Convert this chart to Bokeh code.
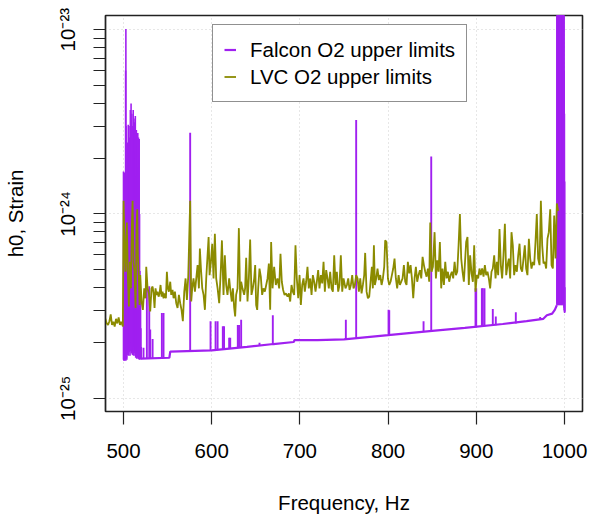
import numpy as np
from bokeh.plotting import figure
from bokeh.models import Range1d, FixedTicker, Legend, LegendItem
from bokeh.embed import file_html
from bokeh.resources import INLINE

UNIT = 1e-25  # all strain values below are in units of 1e-25

# ---- LVC O2 upper limits ----
lvc_freq = [
    476, 478, 479.5, 481, 482.5, 484, 485.5, 487, 488.5, 490,
    491.5, 493, 494.5, 496, 497.5, 499.3, 500.1, 501.2, 502.3, 503.8,
    505.0, 506.1, 507.2, 508.4, 509.5, 510.3, 511.4, 512.5, 513.7, 514.8,
    515.6, 516.3, 517.4, 518.2, 519.0, 520.5, 522.0, 523.5, 525.0, 525.8,
    527.3, 528.8, 530.3, 531.8, 533.0, 534.1, 535.2, 536.3, 537.5, 538.6,
    539.8, 540.9, 542.0, 543.2, 544.3, 545.4, 546.6, 548.1, 549.2, 550.3,
    551.5, 553.0, 554.1, 555.6, 556.8, 558.3, 559.8, 561.3, 562.8, 564.3,
    565.8, 567.3, 568.9, 570.4, 571.9, 573.4, 575.6, 576.8, 577.9, 579.4,
    581.0, 582.5, 584.0, 585.5, 586.6, 587.8, 589.3, 590.8, 592.3, 593.8,
    595.3, 596.5, 597.6, 599.1, 600.6, 602.1, 603.6, 605.1, 606.7, 608.5,
    610.4, 611.6, 613.4, 614.9, 616.4, 617.9, 619.8, 620.9, 622.8, 624.0,
    625.5, 626.6, 627.7, 629.3, 630.8, 632.3, 633.4, 634.9, 636.8, 637.9,
    639.1, 640.6, 642.1, 643.6, 645.1, 646.6, 648.2, 649.3, 650.4, 651.6,
    652.7, 654.2, 655.7, 657.2, 658.7, 660.3, 661.8, 663.3, 664.8, 666.3,
    667.4, 669.0, 670.8, 672.7, 674.6, 676.5, 678.0, 679.5, 681.0, 682.6,
    684.1, 686.0, 687.5, 689.0, 690.5, 692.0, 693.5, 695.0, 696.5, 698.1,
    699.6, 701.1, 702.6, 704.1, 705.6, 707.1, 708.6, 710.1, 711.7, 713.2,
    714.7, 716.2, 717.7, 719.2, 720.7, 722.2, 723.8, 725.3, 726.8, 728.3,
    729.8, 731.3, 732.8, 734.3, 735.9, 737.4, 738.9, 740.4, 741.9, 743.4,
    744.9, 746.4, 748.0, 749.5, 751.7, 753.3, 754.8, 756.3, 757.8, 759.3,
    760.8, 762.3, 763.8, 765.4, 766.9, 768.4, 769.9, 771.4, 772.9, 774.0,
    775.6, 777.1, 778.6, 780.1, 781.6, 782.7, 783.9, 785.0, 786.5, 788.0,
    789.5, 791.1, 792.6, 794.1, 795.6, 796.7, 798.2, 799.8, 801.3, 802.8,
    804.3, 805.8, 807.3, 808.8, 810.3, 811.9, 813.4, 814.9, 816.4, 817.9,
    819.4, 820.9, 822.4, 824.0, 825.5, 827.0, 828.5, 830.0, 831.5, 833.0,
    834.5, 836.1, 837.6, 839.1, 840.6, 842.1, 843.6, 845.1, 846.6, 847.8,
    849.3, 850.8, 852.7, 854.2, 855.7, 857.2, 858.7, 860.2, 861.7, 863.3,
    864.8, 866.3, 867.8, 869.3, 870.8, 872.3, 873.8, 875.4, 876.9, 878.4,
    879.9, 881.4, 882.9, 884.4, 885.9, 887.0, 888.5, 890.0, 891.5, 893.0,
    894.6, 896.1, 897.6, 899.1, 900.6, 902.1, 903.6, 905.1, 906.6, 908.2,
    909.7, 911.2, 912.7, 914.2, 915.7, 917.2, 918.7, 920.3, 921.8, 923.3,
    924.8, 926.3, 927.8, 929.3, 930.8, 932.4, 933.9, 935.4, 936.9, 938.4,
    939.9, 941.4, 942.9, 944.4, 946.0, 947.5, 949.0, 950.5, 952.0, 953.5,
    955.0, 956.5, 958.0, 959.6, 961.1, 962.6, 964.1, 965.6, 967.1, 968.6,
    970.1, 971.7, 973.2, 974.7, 976.2, 977.7, 979.2, 980.7, 982.2, 983.8,
    985.3, 986.8, 988.3, 989.8, 991.3, 992.8,
]
lvc_h0 = [
    2.7, 2.6, 2.7, 2.55, 2.5, 2.62, 2.85, 2.5, 2.6, 2.45,
    2.7, 2.55, 2.75, 2.5, 2.6, 2.45, 11.8, 6.76, 4.86, 9.0,
    4.47, 3.15, 5.5, 3.95, 8.65, 11.8, 5.5, 4.86, 3.09, 8.3,
    10.6, 5.97, 4.47, 3.21, 4.66, 3.35, 3.02, 3.95, 3.49, 5.17,
    3.95, 3.71, 2.96, 3.95, 4.04, 3.71, 3.09, 3.95, 3.64, 3.79,
    3.56, 3.71, 4.12, 3.56, 3.79, 3.49, 3.71, 3.49, 4.86, 3.95,
    3.79, 4.29, 3.64, 3.87, 3.49, 3.79, 3.28, 3.09, 3.64, 3.28,
    3.02, 2.62, 3.79, 4.47, 3.42, 4.57, 11.8, 3.35, 3.95, 4.47,
    3.79, 4.47, 5.28, 3.95, 6.49, 5.06, 3.95, 3.64, 3.02, 4.47,
    5.97, 7.5, 4.66, 5.5, 6.9, 4.47, 7.8, 4.47, 3.95, 3.28,
    5.06, 7.19, 3.64, 5.97, 4.12, 3.64, 4.47, 3.95, 3.35, 3.95,
    3.09, 2.78, 3.64, 3.95, 8.38, 3.35, 4.29, 3.95, 3.64, 3.95,
    5.78, 3.35, 4.47, 7.28, 3.64, 3.95, 4.47, 5.28, 3.21, 3.02,
    3.95, 5.06, 4.57, 3.64, 3.95, 3.79, 4.12, 4.47, 5.39, 3.02,
    7.04, 3.95, 5.17, 4.12, 4.47, 3.95, 6.09, 4.29, 3.87, 3.64,
    3.71, 3.56, 3.71, 3.35, 4.12, 3.79, 3.64, 6.76, 4.47, 3.49,
    4.66, 3.21, 4.12, 4.47, 3.79, 4.29, 5.17, 3.95, 4.47, 3.64,
    4.66, 4.29, 3.79, 4.29, 4.96, 3.95, 4.66, 4.2, 5.5, 3.79,
    4.96, 4.47, 3.95, 4.86, 3.95, 3.79, 5.97, 4.12, 4.86, 3.79,
    4.12, 5.97, 3.79, 4.47, 3.95, 4.12, 4.47, 3.87, 4.12, 4.66,
    3.95, 4.12, 4.66, 4.47, 3.79, 4.47, 3.71, 4.12, 4.66, 6.15,
    3.79, 3.49, 3.56, 4.29, 5.17, 3.95, 6.76, 4.12, 4.47, 5.06,
    4.38, 4.66, 4.12, 4.47, 5.17, 7.19, 7.04, 4.47, 4.12, 4.29,
    4.66, 5.06, 5.73, 4.47, 3.95, 4.66, 4.12, 4.29, 4.47, 5.28,
    4.29, 4.12, 5.5, 4.76, 5.28, 4.47, 3.49, 4.47, 5.17, 4.29,
    4.66, 4.96, 4.47, 5.85, 5.28, 4.86, 4.57, 5.06, 4.29, 9.0,
    4.86, 5.17, 7.97, 4.47, 5.61, 4.86, 7.04, 3.95, 5.06, 4.12,
    5.5, 4.47, 4.86, 4.29, 4.66, 4.86, 4.47, 5.5, 4.66, 4.86,
    6.76, 10.0, 5.73, 4.86, 4.29, 5.28, 7.04, 7.5, 4.12, 5.97,
    4.76, 4.29, 6.76, 3.79, 4.66, 4.47, 5.06, 4.66, 5.06, 4.57,
    5.28, 4.66, 4.86, 4.47, 3.95, 4.86, 5.06, 5.97, 4.47, 5.5,
    4.66, 8.3, 5.28, 4.47, 5.97, 8.84, 4.66, 5.28, 5.73, 4.47,
    7.97, 6.76, 4.66, 5.28, 4.86, 5.97, 6.9, 5.06, 4.86, 5.73,
    6.76, 5.06, 4.66, 7.34, 5.73, 5.06, 5.5, 5.28, 7.04, 10.0,
    5.73, 5.28, 11.8, 6.76, 5.39, 5.5, 5.06, 7.34, 7.97, 10.6,
    5.28, 5.06, 9.8, 5.73, 11.4, 10.4,
]

# ---- Falcon O2 upper limits ----
# smooth floor of the upper limits
falcon_floor_freq = [519.5, 552, 553, 600, 640, 670, 693, 694, 720, 750,
                     800, 850, 887, 930, 957, 976, 980, 986, 989, 991.3]
falcon_floor_h0 = [1.64, 1.66, 1.79, 1.82, 1.9, 1.97, 2.02, 2.07, 2.07, 2.09,
                   2.2, 2.32, 2.41, 2.53, 2.62, 2.7, 2.82, 2.88, 3.02, 3.2]
# isolated narrow lines: frequency, floor value, peak value
falcon_line_freq = [522.7, 526.5, 529.2, 530.3, 533.0, 543.5, 545.4, 575.6, 598.7, 604.4,
                    606.7, 612.6, 614.0, 619.8, 621.0, 629.6, 631.0, 633.4, 654.2, 669.3,
                    752.1, 763.8, 800.5, 801.3, 840.2, 848.9, 899.1, 899.9, 906.3, 907.4,
                    909.3, 918.7, 922.1, 944.8, 972.4]
falcon_line_base = [1.64, 1.64, 1.64, 1.64, 1.65, 1.65, 1.65, 1.8, 1.82, 1.83,
                    1.83, 1.84, 1.84, 1.86, 1.86, 1.88, 1.88, 1.88, 1.93, 1.97,
                    2.09, 2.11, 2.2, 2.2, 2.3, 2.32, 2.43, 2.43, 2.45, 2.45,
                    2.46, 2.48, 2.49, 2.55, 2.68]
falcon_line_peak = [1.88, 4.05, 4.05, 2.36, 2.1, 2.9, 2.9, 27.6, 2.62, 2.62,
                    2.62, 2.46, 2.46, 2.13, 2.13, 2.5, 2.5, 2.67, 2.0, 2.82,
                    2.67, 32.4, 3.02, 3.0, 2.62, 20.5, 3.95, 3.95, 3.95, 3.95,
                    3.95, 3.05, 2.78, 2.93, 2.76]
# densely oscillating band near 500-520 Hz
falcon_lowband_freq = [500.0, 500.4, 500.8, 501.2, 501.6, 502.0, 502.4, 502.7, 503.0, 503.4,
                       503.8, 504.2, 504.6, 505.0, 505.4, 505.8, 506.2, 506.6, 507.0, 507.4,
                       507.8, 508.2, 508.6, 509.0, 509.4, 509.8, 510.2, 510.6, 511.0, 511.4,
                       511.8, 512.2, 512.6, 513.0, 513.4, 513.8, 514.2, 514.6, 515.0, 515.4,
                       515.8, 516.2, 516.6, 517.0, 517.4, 517.8, 518.2, 518.6, 519.0, 519.3,
                       519.7, 520.1]
falcon_lowband_hi = [17, 12, 16.8, 9, 16.5, 14, 60, 101, 30, 16.8,
                     12, 16, 24.4, 20, 30.5, 22, 30, 26, 20.6, 12,
                     36.7, 25, 39.8, 30, 35, 18, 22, 30, 36.7, 26,
                     33, 24, 31.5, 20, 34, 22, 28.6, 28.6, 16, 23.3,
                     20, 27.5, 18, 26, 20, 25.5, 10, 4.9, 3.0, 3.8,
                     2.4, 1.9]
falcon_lowband_lo = [1.62, 1.6, 1.63, 1.6, 1.65, 1.62, 1.64, 1.6, 1.7, 1.66,
                     1.62, 1.75, 1.8, 1.72, 1.9, 1.7, 1.85, 1.78, 1.95, 1.7,
                     1.88, 1.8, 2.0, 1.75, 1.9, 1.82, 1.72, 1.95, 1.8, 1.7,
                     1.85, 1.76, 1.9, 1.7, 1.8, 1.66, 1.75, 1.7, 1.64, 1.72,
                     1.66, 1.7, 1.64, 1.68, 1.63, 1.66, 1.62, 1.64, 1.63, 1.64,
                     1.63, 1.64]
# densely oscillating band near 991-1000 Hz
falcon_highband_freq = [991.4, 991.65, 991.9, 992.15, 992.4, 992.65, 992.9, 993.15, 993.4, 993.65,
                        993.9, 994.15, 994.4, 994.65, 994.9, 995.15, 995.4, 995.65, 995.9, 996.15,
                        996.4, 996.65, 996.9, 997.15, 997.4, 997.65, 997.9, 998.15, 998.4, 998.65,
                        998.9, 999.15, 999.4, 999.65, 999.9, 1000.15, 1000.4]
falcon_highband_hi = [150, 210, 180, 250, 200, 230, 190, 260, 220, 170,
                      240, 200, 210, 260, 180, 230, 200, 250, 190, 220,
                      240, 170, 210, 260, 200, 230, 190, 250, 210, 180,
                      220, 160, 140, 60, 35, 15, 4]
falcon_highband_lo = [3.2, 3.25, 3.3, 3.2, 3.35, 3.25, 3.3, 3.2, 3.3, 3.4,
                      3.25, 3.3, 3.2, 3.35, 3.3, 3.25, 3.3, 3.2, 3.3, 3.35,
                      3.25, 3.3, 3.2, 3.3, 3.25, 3.35, 3.3, 3.2, 3.3, 3.25,
                      3.3, 3.2, 3.1, 3.0, 2.95, 2.9, 2.95]

x_ticks = [500, 600, 700, 800, 900, 1000]
y_ticks = [1e-25, 1e-24, 1e-23]
y_tick_labels = {1e-25: "10\u207b\u00b2\u2075", 1e-24: "10\u207b\u00b2\u2074", 1e-23: "10\u207b\u00b2\u00b3"}

PURPLE = "#A020F0"
OLIVE = "#8B8B00"
FONT = "Liberation Sans"
FS = "20.5px"

def s(v):
    return np.asarray(v, dtype=float) * UNIT

p = figure(width=589, height=516, y_axis_type="log", output_backend="svg",
           toolbar_location=None,
           x_range=Range1d(479.6, 1020.4), y_range=Range1d(8.48e-26, 1.194e-23),
           min_border_left=105, min_border_right=7, min_border_top=15, min_border_bottom=101)
p.background_fill_color = "white"
p.border_fill_color = "white"
p.outline_line_color = "#222222"
p.outline_line_width = 1.6

# Falcon
falcon_r = p.line(falcon_floor_freq, s(falcon_floor_h0), line_color=PURPLE, line_width=2.2)
p.segment(x0=falcon_line_freq, y0=s(falcon_line_base), x1=falcon_line_freq, y1=s(falcon_line_peak),
          line_color=PURPLE, line_width=1.9)
p.segment(x0=falcon_lowband_freq, y0=s(falcon_lowband_lo), x1=falcon_lowband_freq, y1=s(falcon_lowband_hi),
          line_color=PURPLE, line_width=1.6)
p.segment(x0=falcon_highband_freq, y0=s(falcon_highband_lo), x1=falcon_highband_freq, y1=s(falcon_highband_hi),
          line_color=PURPLE, line_width=1.6)
# LVC
lvc_r = p.line(lvc_freq, s(lvc_h0), line_color=OLIVE, line_width=1.8)

# axes
p.xaxis.ticker = FixedTicker(ticks=x_ticks)
minor = [m * d for d in [1e-25, 1e-24] for m in range(2, 10)]
p.yaxis.ticker = FixedTicker(ticks=y_ticks, minor_ticks=minor)
p.yaxis.major_label_overrides = y_tick_labels
p.yaxis.major_label_orientation = "parallel"

for ax in (p.xaxis[0], p.yaxis[0]):
    ax.axis_line_color = "#222222"
    ax.axis_line_width = 1.2
    ax.major_tick_line_color = "#222222"
    ax.minor_tick_line_color = "#222222"
    ax.major_tick_line_width = 1.2
    ax.minor_tick_line_width = 1.2
    ax.major_tick_in = 0
    ax.minor_tick_in = 0
    ax.major_label_text_font = FONT
    ax.major_label_text_font_size = FS
    ax.major_label_text_color = "black"
    ax.axis_label_text_font = FONT
    ax.axis_label_text_font_size = FS
    ax.axis_label_text_font_style = "normal"
    ax.axis_label_text_color = "black"

p.xaxis.major_tick_out = 13
p.xaxis.minor_tick_out = 0
p.xaxis.major_label_standoff = 19
p.xaxis.axis_label = "Frequency, Hz"
p.xaxis.axis_label_standoff = 30

p.yaxis.major_tick_out = 12
p.yaxis.minor_tick_out = 12
p.yaxis.major_label_standoff = 14
p.yaxis.axis_label = "h0, Strain"
p.yaxis.axis_label_standoff = 27

p.xgrid.ticker = FixedTicker(ticks=x_ticks)
p.ygrid.ticker = FixedTicker(ticks=y_ticks)
for g in (p.xgrid[0], p.ygrid[0]):
    g.grid_line_color = "#cfcfcf"
    g.grid_line_dash = "1 3"
    g.grid_line_width = 1

legend = Legend(items=[LegendItem(label="Falcon O2 upper limits", renderers=[falcon_r]),
                       LegendItem(label="LVC O2 upper limits", renderers=[lvc_r])],
                location=(107, 309))
legend.border_line_color = "#222222"
legend.border_line_width = 1.5
legend.background_fill_color = "white"
legend.background_fill_alpha = 1
legend.label_text_font = FONT
legend.label_text_font_size = "20.5px"
legend.label_text_color = "black"
legend.glyph_width = 12
legend.glyph_height = 27
legend.label_height = 27
legend.label_standoff = 14
legend.padding = 11
legend.spacing = 0
legend.margin = 0
p.add_layout(legend)

open("out.html", "w").write(file_html(p, INLINE, title="Falcon vs LVC O2 upper limits"))
